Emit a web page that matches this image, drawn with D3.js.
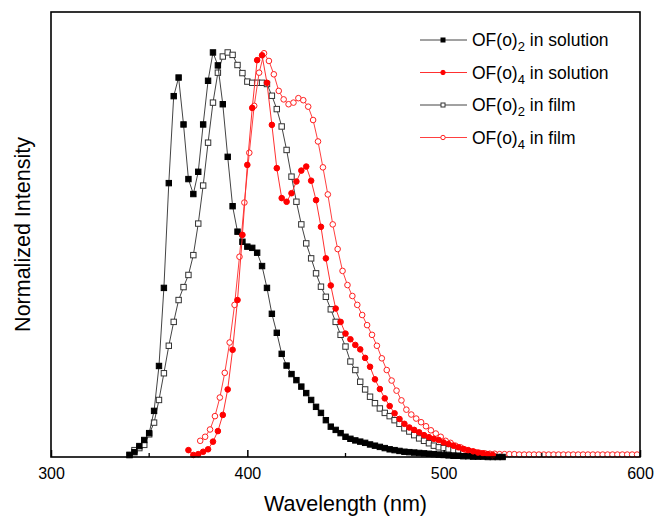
<!DOCTYPE html>
<html>
<head>
  <style>
    body { margin: 0; background: #fff; }
    text { font-family: "Liberation Sans", Arial, sans-serif; }
  </style>
</head>
<body>
  <div id="chart"></div>

  <script src="https://d3js.org/d3.v7.min.js"></script>
  <script>
    // wavelength grid of each spectrum (start, step in nm)
    const gridOF2sol = { start: 340, step: 2.5 };
    const gridOF4sol = { start: 370, step: 2.5 };
    const gridOF2film = { start: 340, step: 2.5 };
    const gridOF4film = { start: 376, step: 2.5 };

    // normalized intensities
    const of2Solution = [0.005, 0.012, 0.027, 0.042, 0.059, 0.114, 0.225, 0.418, 0.677, 0.892,
      0.938, 0.822, 0.687, 0.650, 0.705, 0.822, 0.930, 1.0, 0.968, 0.872,
      0.742, 0.620, 0.557, 0.532, 0.520, 0.517, 0.505, 0.472, 0.418, 0.354,
      0.307, 0.255, 0.226, 0.205, 0.190, 0.174, 0.158, 0.141, 0.124, 0.109,
      0.091, 0.075, 0.067, 0.059, 0.050, 0.045, 0.041, 0.038, 0.035, 0.031,
      0.028, 0.025, 0.022, 0.019, 0.017, 0.015, 0.013, 0.012, 0.011, 0.010,
      0.009, 0.008, 0.007, 0.006, 0.005, 0.004, 0.003, 0.003, 0.002, 0.002,
      0.001, 0.001, 0.001, 0.0, 0.0, 0.0, 0.0];

    const of4Solution = [0.017, 0.005, 0.007, 0.013, 0.019, 0.038, 0.064, 0.104, 0.167, 0.265,
      0.388, 0.549, 0.722, 0.863, 0.981, 0.993, 0.925, 0.821, 0.714, 0.640,
      0.631, 0.652, 0.681, 0.708, 0.718, 0.683, 0.635, 0.569, 0.491, 0.424,
      0.367, 0.334, 0.305, 0.291, 0.277, 0.266, 0.245, 0.223, 0.192, 0.168,
      0.145, 0.126, 0.108, 0.094, 0.082, 0.073, 0.067, 0.061, 0.054, 0.049,
      0.045, 0.042, 0.036, 0.032, 0.028, 0.024, 0.020, 0.017, 0.014, 0.011,
      0.009, 0.007, 0.005];

    const of2Film = [0.005, 0.017, 0.022, 0.030, 0.056, 0.085, 0.141, 0.207, 0.275, 0.334,
      0.388, 0.420, 0.450, 0.499, 0.577, 0.671, 0.777, 0.876, 0.950, 0.990,
      1.0, 0.994, 0.969, 0.949, 0.928, 0.925, 0.925, 0.925, 0.922, 0.893,
      0.860, 0.817, 0.759, 0.693, 0.631, 0.575, 0.528, 0.491, 0.454, 0.421,
      0.396, 0.365, 0.334, 0.302, 0.273, 0.236, 0.215, 0.186, 0.167, 0.149,
      0.133, 0.120, 0.109, 0.101, 0.091, 0.082, 0.071, 0.063, 0.054, 0.046,
      0.040, 0.034, 0.028, 0.024, 0.022, 0.019, 0.017, 0.016, 0.013, 0.011,
      0.010, 0.009, 0.007, 0.006, 0.005, 0.004, 0.002];

    const of4Film = [0.040, 0.050, 0.068, 0.101, 0.147, 0.208, 0.283, 0.376, 0.495, 0.629,
      0.752, 0.868, 0.950, 0.998, 0.979, 0.946, 0.905, 0.884, 0.872, 0.876,
      0.887, 0.882, 0.866, 0.833, 0.780, 0.716, 0.649, 0.575, 0.514, 0.460,
      0.425, 0.398, 0.376, 0.351, 0.326, 0.302, 0.275, 0.244, 0.215, 0.189,
      0.164, 0.140, 0.117, 0.105, 0.095, 0.086, 0.076, 0.066, 0.058, 0.050,
      0.040, 0.035, 0.028, 0.024, 0.018, 0.014, 0.012, 0.010, 0.009, 0.008,
      0.008, 0.007, 0.007, 0.007, 0.007, 0.006, 0.006, 0.006, 0.006, 0.006,
      0.006, 0.006, 0.006, 0.006, 0.006, 0.006, 0.006, 0.006, 0.006, 0.006,
      0.006, 0.006, 0.006, 0.006, 0.006, 0.006, 0.006, 0.006, 0.006, 0.006];

    const xTicks = [300, 400, 500, 600];
    const xMinorTicks = [350, 450, 550];

    const width = 654, height = 517;
    const plotLeft = 51, plotRight = 640, plotTop = 12, plotBottom = 457;

    const svg = d3.select("#chart").append("svg")
      .attr("width", width)
      .attr("height", height);

    const x = d3.scaleLinear().domain([300, 600]).range([plotLeft, plotRight]);
    const y = d3.scaleLinear().domain([0, 1.1]).range([plotBottom, plotTop]);

    const toPoints = (vals, grid) => vals.map((v, i) => [grid.start + i * grid.step, v]);

    const series = [
      { name: "OF(o)", sub: "2", tail: " in solution", pts: toPoints(of2Solution, gridOF2sol),
        line: "#444", shape: "square", fill: "#000", stroke: "#000" },
      { name: "OF(o)", sub: "4", tail: " in solution", pts: toPoints(of4Solution, gridOF4sol),
        line: "#ff3030", shape: "circle", fill: "#ff0000", stroke: "#ff0000" },
      { name: "OF(o)", sub: "2", tail: " in film", pts: toPoints(of2Film, gridOF2film),
        line: "#444", shape: "square", fill: "#fff", stroke: "#333" },
      { name: "OF(o)", sub: "4", tail: " in film", pts: toPoints(of4Film, gridOF4film),
        line: "#ff4040", shape: "circle", fill: "#fff", stroke: "#ff2020" }
    ];

    const line = d3.line().x(d => x(d[0])).y(d => y(d[1]));

    // film series first, solution series on top
    const drawOrder = [2, 3, 0, 1];
    drawOrder.forEach(k => {
      const s = series[k];
      const g = svg.append("g");
      g.append("path")
        .attr("d", line(s.pts))
        .attr("fill", "none")
        .attr("stroke", s.line)
        .attr("stroke-width", 1);
      if (s.shape === "square") {
        g.selectAll("rect").data(s.pts).enter().append("rect")
          .attr("x", d => x(d[0]) - 2.7)
          .attr("y", d => y(d[1]) - 2.7)
          .attr("width", 5.4).attr("height", 5.4)
          .attr("fill", s.fill)
          .attr("stroke", s.stroke)
          .attr("stroke-width", 1);
      } else {
        g.selectAll("circle").data(s.pts).enter().append("circle")
          .attr("cx", d => x(d[0]))
          .attr("cy", d => y(d[1]))
          .attr("r", 2.8)
          .attr("fill", s.fill)
          .attr("stroke", s.stroke)
          .attr("stroke-width", 1);
      }
    });

    // frame
    svg.append("rect")
      .attr("x", plotLeft).attr("y", plotTop)
      .attr("width", plotRight - plotLeft)
      .attr("height", plotBottom - plotTop)
      .attr("fill", "none")
      .attr("stroke", "#000")
      .attr("stroke-width", 1.6);

    // x axis, ticks pointing in
    const xAxis = d3.axisBottom(x).tickValues(xTicks).tickSizeInner(-7).tickSizeOuter(0)
      .tickPadding(11).tickFormat(d3.format("d"));
    const ax = svg.append("g").attr("transform", `translate(0,${plotBottom})`).call(xAxis);
    ax.select(".domain").remove();
    ax.selectAll(".tick line").attr("stroke-width", 1.5);
    ax.selectAll("text").attr("font-size", 16).attr("fill", "#000")
      .style("font-family", "'Liberation Sans', Arial, sans-serif");

    svg.append("g").selectAll("line").data(xMinorTicks).enter().append("line")
      .attr("x1", d => x(d)).attr("x2", d => x(d))
      .attr("y1", plotBottom).attr("y2", plotBottom - 4)
      .attr("stroke", "#000").attr("stroke-width", 1.3);

    // axis titles
    svg.append("text")
      .attr("x", (plotLeft + plotRight) / 2)
      .attr("y", 511)
      .attr("text-anchor", "middle")
      .attr("font-size", 21.5)
      .text("Wavelength (nm)");

    svg.append("text")
      .attr("transform", `translate(30,${(plotTop + plotBottom) / 2}) rotate(-90)`)
      .attr("text-anchor", "middle")
      .attr("font-size", 21.5)
      .text("Normalized Intensity");

    // legend
    const legend = svg.append("g");
    series.forEach((s, i) => {
      const ly = 40 + i * 32.5;
      const row = legend.append("g");
      row.append("line")
        .attr("x1", 420).attr("x2", 467)
        .attr("y1", ly).attr("y2", ly)
        .attr("stroke", s.line).attr("stroke-width", 1);
      if (s.shape === "square") {
        row.append("rect")
          .attr("x", 441).attr("y", ly - 2)
          .attr("width", 4).attr("height", 4)
          .attr("fill", s.fill).attr("stroke", s.stroke).attr("stroke-width", 1);
      } else {
        row.append("circle")
          .attr("cx", 443).attr("cy", ly).attr("r", 2.2)
          .attr("fill", s.fill).attr("stroke", s.stroke).attr("stroke-width", 1);
      }
      const t = row.append("text")
        .attr("x", 472).attr("y", ly + 6)
        .attr("font-size", 17.5);
      t.append("tspan").text(s.name);
      t.append("tspan").attr("font-size", 13).attr("dy", 5).text(s.sub);
      t.append("tspan").attr("dy", -5).text(s.tail);
    });
  </script>
</body>
</html>
